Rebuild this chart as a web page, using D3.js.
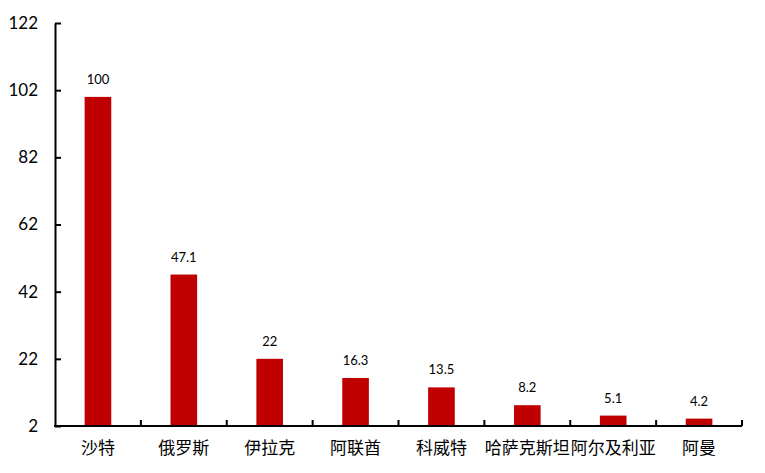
<!DOCTYPE html>
<html>
<head>
<meta charset="utf-8">
<script src="https://cdn.jsdelivr.net/npm/d3@7"></script>
<style>
  body { margin: 0; background: #fff; }
  text { font-family: Lato, "Noto Sans CJK SC", sans-serif; }
</style>
</head>
<body>
<script>
// Data
const countries = ["沙特", "俄罗斯", "伊拉克", "阿联酋", "科威特", "哈萨克斯坦", "阿尔及利亚", "阿曼"];
const values = [100, 47.1, 22, 16.3, 13.5, 8.2, 5.1, 4.2];
const yTicks = [2, 22, 42, 62, 82, 102, 122];

const width = 765, height = 473;
const margin = { top: 23, right: 23, bottom: 47, left: 55 };

const svg = d3.select("body").append("svg")
  .attr("width", width)
  .attr("height", height);

const x = d3.scaleBand()
  .domain(countries)
  .range([margin.left, width - margin.right])
  .paddingInner(0.69)
  .paddingOuter(0.345);

const y = d3.scaleLinear()
  .domain([2, 122])
  .range([height - margin.bottom, margin.top]);

// Bars
svg.selectAll("rect.bar")
  .data(values)
  .enter().append("rect")
  .attr("class", "bar")
  .attr("x", (d, i) => x(countries[i]))
  .attr("width", x.bandwidth())
  .attr("y", d => y(d))
  .attr("height", d => y(2) - y(d))
  .attr("fill", "#c00000");

// Value labels
svg.selectAll("text.val")
  .data(values)
  .enter().append("text")
  .attr("class", "val")
  .attr("x", (d, i) => x(countries[i]) + x.bandwidth() / 2)
  .attr("y", d => y(d) - 13)
  .attr("text-anchor", "middle")
  .style("font-size", "13px")
  .style("fill", "#000")
  .text(d => d);

// Y axis (ticks point inside)
const yAxis = svg.append("g")
  .attr("transform", `translate(${margin.left},0)`)
  .call(d3.axisLeft(y).tickValues(yTicks).tickSizeInner(-6).tickSizeOuter(0).tickPadding(17));
yAxis.select(".domain").attr("stroke", "#000").attr("stroke-width", 2);
yAxis.selectAll(".tick line").attr("stroke", "#000").attr("stroke-width", 2);
yAxis.selectAll(".tick text")
  .style("font-size", "17px")
  .style("fill", "#000")
  .attr("font-family", null);

// X axis with boundary ticks between categories
const xAxisG = svg.append("g")
  .attr("transform", `translate(0,${y(2)})`);
xAxisG.append("line")
  .attr("x1", margin.left - 1)
  .attr("x2", width - margin.right)
  .attr("stroke", "#000")
  .attr("stroke-width", 2);
const step = x.step();
const bounds = d3.range(countries.length + 1).map(i => margin.left + i * step);
xAxisG.selectAll("line.bt")
  .data(bounds.slice(1))
  .enter().append("line")
  .attr("class", "bt")
  .attr("x1", d => d).attr("x2", d => d)
  .attr("y1", 0).attr("y2", -6)
  .attr("stroke", "#000")
  .attr("stroke-width", 2);
xAxisG.selectAll("text.cat")
  .data(countries)
  .enter().append("text")
  .attr("class", "cat")
  .attr("x", d => x(d) + x.bandwidth() / 2)
  .attr("y", 28)
  .attr("text-anchor", "middle")
  .style("font-size", "17px")
  .style("fill", "#000")
  .text(d => d);
</script>
</body>
</html>
